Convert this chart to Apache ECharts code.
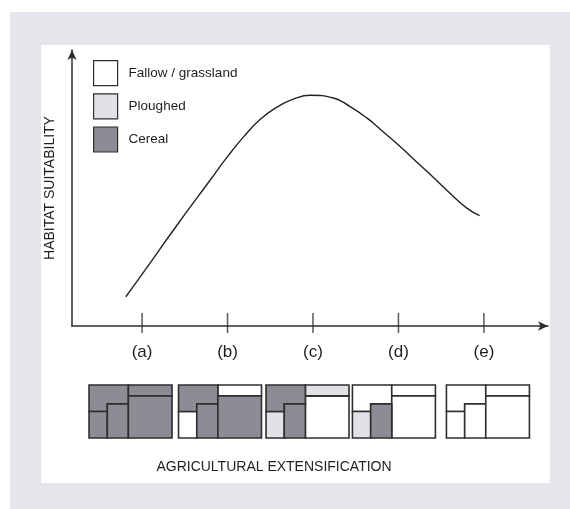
<!DOCTYPE html>
<html><head><meta charset="utf-8">
<script src="https://cdn.jsdelivr.net/npm/echarts@6/dist/echarts.min.js"></script>
<style>html,body{margin:0;padding:0;background:#fff}#c{width:570px;height:509px}</style>
</head><body><div id="c"></div>
<script>
// ---- data ----
const stageLabels = ['(a)', '(b)', '(c)', '(d)', '(e)'];
const stagePos = [1, 2, 3, 4, 5];
// habitat suitability curve (x in stage units, y in relative suitability 0-10)
const curveX = [0.81, 1.02, 1.41, 1.80, 1.99, 2.19, 2.38, 2.58, 2.77, 2.97, 3.24, 3.43, 3.63, 3.82, 4.02, 4.21, 4.41, 4.60, 4.80, 4.95];
const curveY = [1.06, 1.96, 3.66, 5.30, 6.10, 6.86, 7.48, 7.93, 8.22, 8.36, 8.26, 7.96, 7.54, 7.04, 6.50, 5.95, 5.38, 4.82, 4.27, 4.00];
// landscape diagrams: centre of each landscape (stage units)
const landscapeCentre = [0.865, 1.912, 2.936, 3.947, 5.047];
const landUseNames = ['Fallow / grassland', 'Ploughed', 'Cereal'];
// land use of fields F1..F5 in each landscape: 0 fallow, 1 ploughed, 2 cereal
const landUse = [
  [2, 2, 2, 2, 2],
  [2, 0, 2, 0, 2],
  [2, 1, 2, 1, 0],
  [0, 1, 2, 0, 0],
  [0, 0, 0, 0, 0]
];
// ---- styling / geometry ----
const fills = ['#ffffff', '#e3e1e7', '#8d8b93'];
const lineCol = '#2e2e2e';
const boxW = 0.971;
// field shapes as fractions of a landscape box [fx, fy] (fy from top)
const fieldShapes = [
  [[0,0],[0.474,0],[0.474,0.356],[0.22,0.356],[0.22,0.5],[0,0.5]],
  [[0,0.5],[0.22,0.5],[0.22,1],[0,1]],
  [[0.22,0.356],[0.474,0.356],[0.474,1],[0.22,1]],
  [[0.474,0],[1,0],[1,0.206],[0.474,0.206]],
  [[0.474,0.206],[1,0.206],[1,1],[0.474,1]]
];

const xMin = 0.18, xMax = 5.75;
const fieldData = [[], [], []];
landUse.forEach((row, li) => row.forEach((u, fi) => fieldData[u].push([li, fi])));

function renderField(params, api) {
  const li = api.value(0), fi = api.value(1);
  const x0 = landscapeCentre[li] - boxW / 2;
  const pts = fieldShapes[fi].map(p => api.coord([x0 + p[0] * boxW, 1 - p[1]]));
  return {
    type: 'polygon',
    shape: { points: pts },
    style: { fill: api.visual('color'), stroke: lineCol, lineWidth: 1.6 }
  };
}

const landSeries = landUseNames.map((n, u) => ({
  name: n,
  type: 'custom',
  xAxisIndex: 1, yAxisIndex: 1,
  itemStyle: { color: fills[u], borderColor: lineCol },
  renderItem: renderField,
  data: fieldData[u],
  z: 5
}));

const chart = echarts.init(document.getElementById('c'), null, { renderer: 'canvas' });
chart.setOption({
  backgroundColor: '#ffffff',
  animation: false,
  textStyle: { fontFamily: 'Liberation Sans, Arial, sans-serif' },
  graphic: [
    { type: 'rect', z: -10, shape: { x: 10, y: 12, width: 560, height: 497 }, style: { fill: '#e7e5eb' } },
    { type: 'rect', z: -9, shape: { x: 41, y: 45, width: 509, height: 438 }, style: { fill: '#ffffff' } },
    { type: 'text', x: 274, y: 467, style: { text: 'AGRICULTURAL EXTENSIFICATION', fill: '#1e1e1e', font: '14px Liberation Sans, Arial, sans-serif', align: 'center', verticalAlign: 'middle' } }
  ],
  legend: {
    orient: 'vertical', left: 88, top: 55, itemWidth: 24, itemHeight: 25, itemGap: 7,
    icon: 'rect', selectedMode: false,
    itemStyle: { borderColor: lineCol, borderWidth: 1.2 },
    textStyle: { fontSize: 13.5, color: '#1e1e1e', padding: [0, 0, 0, 6] },
    data: landUseNames.map((n, u) => ({ name: n, itemStyle: { color: fills[u], borderColor: lineCol } }))
  },
  grid: [
    { left: 72, right: 22, top: 50, bottom: 183 },
    { left: 72, right: 22, top: 385, bottom: 71 }
  ],
  xAxis: [
    {
      type: 'value', min: xMin, max: xMax, gridIndex: 0,
      axisLine: { show: true, symbol: ['none', 'arrow'], symbolSize: [7, 10], lineStyle: { color: lineCol, width: 1.5 } },
      axisTick: { show: false }, splitLine: { show: false },
      axisLabel: { customValues: stagePos, margin: 18, fontSize: 17, color: '#1e1e1e',
        formatter: v => stageLabels[stagePos.indexOf(v)] || '' }
    },
    { type: 'value', min: xMin, max: xMax, gridIndex: 1, show: false }
  ],
  yAxis: [
    {
      type: 'value', min: 0, max: 10, gridIndex: 0,
      name: 'HABITAT SUITABILITY', nameLocation: 'middle', nameRotate: 90, nameGap: 14.5,
      nameTextStyle: { fontSize: 14, color: '#1e1e1e' },
      axisLine: { show: true, symbol: ['none', 'arrow'], symbolSize: [7, 10], lineStyle: { color: lineCol, width: 1.5 } },
      axisTick: { show: false }, splitLine: { show: false }, axisLabel: { show: false }
    },
    { type: 'value', min: 0, max: 1, gridIndex: 1, show: false }
  ],
  series: [
    {
      type: 'line', name: 'suitability', smooth: true, symbol: 'none',
      lineStyle: { color: '#222', width: 1.4 },
      data: curveX.map((x, i) => [x, curveY[i]]), z: 3
    },
    {
      type: 'scatter', name: 'ticks', symbol: 'rect', symbolSize: [1.5, 20], symbolOffset: [0, -3],
      itemStyle: { color: lineCol }, silent: true,
      data: stagePos.map(x => [x, 0]), z: 4
    }
  ].concat(landSeries)
});
</script></body></html>
